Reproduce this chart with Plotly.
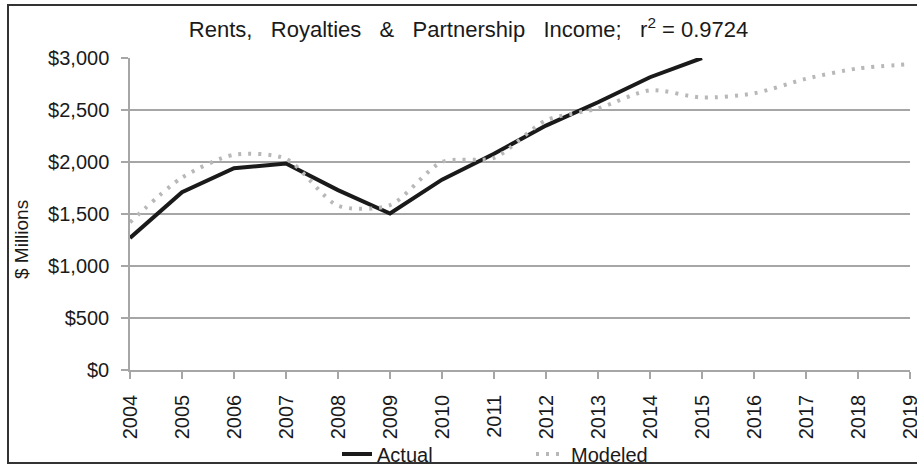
import plotly.graph_objects as go

years = list(range(2004, 2020))
actual_years = list(range(2004, 2016))
actual = [1270, 1710, 1940, 1985, 1730, 1505, 1830, 2080, 2350, 2575, 2815, 3000]
modeled = [1420, 1850, 2070, 2030, 1580, 1585, 2000, 2040, 2400, 2515, 2690, 2620, 2660, 2800, 2900, 2940]
y_ticks = [0, 500, 1000, 1500, 2000, 2500, 3000]
y_tick_labels = ["$0", "$500", "$1,000", "$1,500", "$2,000", "$2,500", "$3,000"]

FONT = "Liberation Sans, Arial, sans-serif"
GRID = "#a6a6a6"
NB = "\u00a0"
GAP = NB * 2 + " "

fig = go.Figure()
fig.add_trace(go.Scatter(
    x=actual_years, y=actual, mode="lines", name="Actual",
    line=dict(color="#1a1a1a", width=4),
))
fig.add_trace(go.Scatter(
    x=years, y=modeled, mode="lines", name="Modeled",
    line=dict(color="#b8b8b8", width=4, dash="3px,7px", shape="spline", smoothing=0.75),
))

title_text = (
    f"Rents,{GAP}Royalties{GAP}&amp;{GAP}Partnership{GAP}Income;{GAP}r<sup>2</sup> = 0.9724"
)

fig.update_layout(
    width=917, height=466,
    margin=dict(l=130, r=7, t=58, b=96),
    paper_bgcolor="white", plot_bgcolor="white",
    font=dict(family=FONT, size=20, color="#1a1a1a"),
    title=dict(
        text=title_text,
        xref="container", x=0.511, xanchor="center",
        yref="container", y=0.937, yanchor="middle",
        font=dict(family=FONT, size=22, color="#1a1a1a"),
    ),
    xaxis=dict(
        range=[2004, 2019], tickmode="array", tickvals=years,
        ticktext=[str(y) for y in years], tickangle=-90,
        showgrid=False, showline=True, linecolor=GRID, linewidth=1.5,
        ticks="outside", ticklen=7, tickcolor=GRID, tickwidth=1.5,
        zeroline=False, tickfont=dict(size=20), automargin=False,
        ticklabeloverflow="allow", ticklabelstandoff=8,
    ),
    yaxis=dict(
        range=[0, 3000], tickmode="array", tickvals=y_ticks, ticktext=y_tick_labels,
        showgrid=True, gridcolor=GRID, gridwidth=1.5,
        showline=True, linecolor=GRID, linewidth=1.5,
        ticks="outside", ticklen=7, tickcolor=GRID, tickwidth=1.5,
        zeroline=False, tickfont=dict(size=20), automargin=False,
        ticklabelstandoff=8,
    ),
    legend=dict(
        orientation="h", x=337 / 917, xanchor="left", xref="container",
        y=1 - 454 / 466, yanchor="middle", yref="container",
        font=dict(size=20), bgcolor="rgba(0,0,0,0)",
        entrywidth=149, entrywidthmode="pixels",
    ),
    showlegend=True,
)

fig.add_annotation(
    text="$ Millions", textangle=-90, showarrow=False,
    xref="paper", yref="paper",
    x=(22 - 130) / 780, y=(370 - 240) / 312,
    xanchor="center", yanchor="middle",
    font=dict(family=FONT, size=19, color="#1a1a1a"),
)

fig.add_shape(
    type="rect", xref="paper", yref="paper",
    x0=(8 - 130) / 780, x1=(918 - 130) / 780,
    y0=(370 - 463) / 312, y1=(370 - 5) / 312,
    line=dict(color="#333333", width=2), fillcolor="rgba(0,0,0,0)",
    layer="below",
)

fig.write_html(
    "out.html",
    config={"displayModeBar": False},
    post_script="document.body.style.margin='0';",
)
